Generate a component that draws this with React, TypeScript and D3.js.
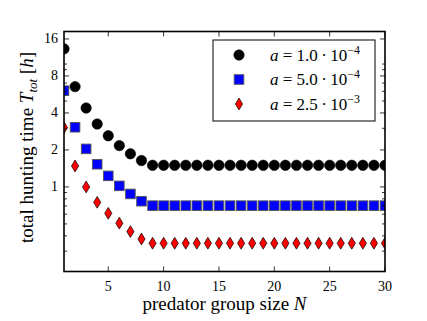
import React from "react";
import * as d3 from "d3";

// predator group size N
const groupSizes = [
  1, 2, 3, 4, 5, 6, 7, 8, 9, 10, 11, 12, 13, 14, 15, 16, 17, 18, 19, 20, 21, 22, 23, 24, 25, 26, 27, 28, 29, 30,
];

// total hunting time [h] for each attack rate a
const timeA1 = [
  13.3, 6.55, 4.39, 3.25, 2.61, 2.17, 1.86, 1.64, 1.5, 1.5, 1.5, 1.5, 1.5, 1.5, 1.5, 1.5, 1.5, 1.5, 1.5, 1.5, 1.5,
  1.5, 1.5, 1.5, 1.5, 1.5, 1.5, 1.5, 1.5, 1.5,
];
const timeA2 = [
  6.07, 3.06, 2.04, 1.53, 1.23, 1.02, 0.877, 0.765, 0.704, 0.704, 0.704, 0.704, 0.704, 0.704, 0.704, 0.704, 0.704,
  0.704, 0.704, 0.704, 0.704, 0.704, 0.704, 0.704, 0.704, 0.704, 0.704, 0.704, 0.704, 0.704,
];
const timeA3 = [
  3.04, 1.48, 1.0, 0.75, 0.61, 0.507, 0.433, 0.377, 0.348, 0.348, 0.348, 0.348, 0.348, 0.348, 0.348, 0.348, 0.348,
  0.348, 0.348, 0.348, 0.348, 0.348, 0.348, 0.348, 0.348, 0.348, 0.348, 0.348, 0.348, 0.348,
];

const xTicks = [5, 10, 15, 20, 25, 30];
const yTicks = [1, 2, 4, 8, 16];
const yMinorTicks = [0.3, 0.4, 0.5, 0.6, 0.7, 0.8, 0.9, 3, 5, 6, 7, 9, 10];

const legendMantissa = ["1.0", "5.0", "2.5"];
const legendExponent = ["−4", "−4", "−3"];

const W = 427;
const H = 321;
const margin = { top: 31.5, right: 42, bottom: 49.5, left: 64 };
const font = '"Liberation Serif", "Times New Roman", serif';

const Marker = ({ kind, x, y }: { kind: string; x: number; y: number }) => {
  if (kind === "circle") return <circle cx={x} cy={y} r={5.2} fill="black" stroke="black" strokeWidth={0.6} />;
  if (kind === "square")
    return <rect x={x - 4.8} y={y - 4.8} width={9.6} height={9.6} fill="#0000ff" stroke="#555" strokeWidth={0.9} />;
  return (
    <path
      d={`M${x},${y - 5.9}L${x + 3.6},${y}L${x},${y + 5.9}L${x - 3.6},${y}Z`}
      fill="#ff0000"
      stroke="black"
      strokeWidth={0.7}
    />
  );
};

export default function App() {
  const x = d3.scaleLinear().domain([1, 30]).range([margin.left, W - margin.right]);
  const y = d3.scaleLog().domain([0.205, 18.4]).range([H - margin.bottom, margin.top]);
  const x0 = margin.left;
  const x1 = W - margin.right;
  const y0 = H - margin.bottom;
  const y1 = margin.top;

  const series = [
    { kind: "circle", values: timeA1 },
    { kind: "square", values: timeA2 },
    { kind: "diamond", values: timeA3 },
  ];

  return (
    <svg width={W} height={H} style={{ position: "absolute", left: 0, top: 0, fontFamily: font }}>
      <rect width={W} height={H} fill="white" />
      <defs>
        <clipPath id="plot">
          <rect x={x0} y={y1} width={x1 - x0} height={y0 - y1} />
        </clipPath>
      </defs>

      {/* data */}
      <g clipPath="url(#plot)">
        {series.map((s) =>
          groupSizes.map((n, i) => <Marker key={s.kind + n} kind={s.kind} x={x(n)} y={y(s.values[i])} />)
        )}
      </g>

      {/* ticks, inward on all sides */}
      <g stroke="black" strokeWidth={0.8}>
        {xTicks.map((t) => (
          <g key={"x" + t}>
            <line x1={x(t)} x2={x(t)} y1={y0} y2={y0 - 5} />
            <line x1={x(t)} x2={x(t)} y1={y1} y2={y1 + 5} />
          </g>
        ))}
        {yTicks.map((t) => (
          <g key={"y" + t}>
            <line x1={x0} x2={x0 + 5} y1={y(t)} y2={y(t)} />
            <line x1={x1} x2={x1 - 5} y1={y(t)} y2={y(t)} />
          </g>
        ))}
        {yMinorTicks.map((t) => (
          <g key={"m" + t}>
            <line x1={x0} x2={x0 + 3} y1={y(t)} y2={y(t)} />
            <line x1={x1} x2={x1 - 3} y1={y(t)} y2={y(t)} />
          </g>
        ))}
      </g>
      <rect x={x0} y={y1} width={x1 - x0} height={y0 - y1} fill="none" stroke="black" strokeWidth={1.6} />

      {/* tick labels */}
      <g fontSize={14} fill="black">
        {xTicks.map((t) => (
          <text key={"xl" + t} x={x(t)} y={y0 + 19} textAnchor="middle">
            {t}
          </text>
        ))}
        {yTicks.map((t) => (
          <text key={"yl" + t} x={x0 - 6} y={y(t) + 4.5} textAnchor="end">
            {t}
          </text>
        ))}
      </g>

      {/* axis labels */}
      <text x={(x0 + x1) / 2} y={H - 11} textAnchor="middle" fontSize={19}>
        predator group size <tspan fontStyle="italic">N</tspan>
      </text>
      <text transform={`translate(33,${(y0 + y1) / 2 - 4}) rotate(-90)`} textAnchor="middle" fontSize={19}>
        total hunting time <tspan fontStyle="italic">T</tspan>
        <tspan fontStyle="italic" fontSize={13} dy={4}>
          tot
        </tspan>
        <tspan dy={-4}> [</tspan>
        <tspan fontStyle="italic">h</tspan>]
      </text>

      {/* legend */}
      <g transform="translate(213,40)">
        <rect width={162} height={81} fill="white" stroke="black" strokeWidth={1} />
        {series.map((s, i) => (
          <g key={"lg" + i} transform={`translate(0,${15 + i * 24.5})`}>
            <Marker kind={s.kind} x={26} y={0} />
            <text x={57} y={5.5} fontSize={17}>
              <tspan fontStyle="italic">a</tspan> = {legendMantissa[i]}{"\u2009·\u2009"}10
              <tspan fontSize={12} dy={-7}>
                {legendExponent[i]}
              </tspan>
            </text>
          </g>
        ))}
      </g>
    </svg>
  );
}
